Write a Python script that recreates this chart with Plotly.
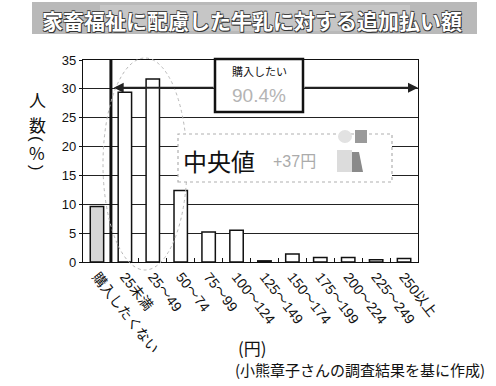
import plotly.graph_objects as go

# ---------------- data ----------------
categories = ["購入したくない", "25未満", "25～49", "50～74", "75～99", "100～124",
              "125～149", "150～174", "175～199", "200～224", "225～249", "250以上"]
percent = [9.6, 29.4, 31.7, 12.4, 5.2, 5.5, 0.2, 1.4, 0.8, 0.8, 0.4, 0.6]
bar_fill = ["#d6d6d6"] + ["#ffffff"] * 11
y_tick_vals = [0, 5, 10, 15, 20, 25, 30, 35]

title_text = "家畜福祉に配慮した牛乳に対する追加払い額"
buy_label = "購入したい"
buy_share = "90.4%"
buy_arrow_level = 30.2
median_label = "中央値"
median_value = "+37円"
x_unit = "(円)"
source_text = "(小熊章子さんの調査結果を基に作成)"
y_title_parts = [("人", 0), ("数", 0), ("(", 90), ("%", 0), (")", 90)]

# ---------------- geometry helpers ----------------
W, H = 496, 386
L, R, T, B = 83, 78, 60, 124
PW, PH = W - L - R, H - T - B
NCAT = len(categories)


def px(x):
    return (x - L) / PW


def py(y):
    return (H - B - y) / PH


def cx(x):
    # pixel -> category coordinate
    return (x - L) / (PW / NCAT) - 0.5


JP = "Noto Sans CJK JP"
LAT = "Liberation Sans, Arial, Noto Sans CJK JP"

fig = go.Figure()
fig.add_trace(go.Bar(
    x=categories, y=percent, width=0.48,
    marker=dict(color=bar_fill, line=dict(color="#111111", width=1.5)),
    showlegend=False, hoverinfo="skip",
))

shapes = []
annotations = []

# title banner
shapes.append(dict(type="rect", xref="paper", yref="paper",
                   x0=px(32), x1=px(477), y0=py(34), y1=py(2),
                   fillcolor="#b9b9b9", line=dict(width=0), layer="above"))
shapes.append(dict(type="rect", xref="paper", yref="paper",
                   x0=px(100), x1=px(410), y0=py(31), y1=py(5),
                   fillcolor="#c6c6c6", line=dict(width=0), layer="above"))
annotations.append(dict(
    text=title_text, xref="paper", yref="paper", x=px(252), y=py(20),
    showarrow=False, xanchor="center", yanchor="middle",
    font=dict(family=JP, size=21, color="#ffffff", weight="bold",
              shadow="1px 1px 0 #333, -0.6px -0.6px 0 #444, 0.6px -0.6px 0 #444, -0.6px 0.6px 0 #444"),
))

# separator between non-buyers and buyers
shapes.append(dict(type="line", xref="x", yref="y", x0=0.5, x1=0.5, y0=0, y1=35,
                   line=dict(color="#111111", width=3), layer="above"))

# dotted ellipse around the two tallest bars
shapes.append(dict(type="circle", xref="paper", yref="paper",
                   x0=px(103), x1=px(187), y0=py(270), y1=py(58),
                   line=dict(color="#b8b8b8", width=1, dash="dot"), layer="above"))

# buyers box (solid)
shapes.append(dict(type="rect", xref="paper", yref="paper",
                   x0=px(215), x1=px(303), y0=py(112), y1=py(59),
                   fillcolor="white", line=dict(color="#111111", width=2.5),
                   layer="above"))

# median box (dashed)
shapes.append(dict(type="rect", xref="paper", yref="paper",
                   x0=px(178), x1=px(392), y0=py(182), y1=py(134),
                   fillcolor="white", line=dict(color="#b0b0b0", width=1.2, dash="dot"),
                   layer="above"))
# small grey icon in median box
shapes.append(dict(type="circle", xref="paper", yref="paper",
                   x0=px(338), x1=px(352), y0=py(143), y1=py(130),
                   fillcolor="#e2e2e2", line=dict(width=0), layer="above"))
shapes.append(dict(type="rect", xref="paper", yref="paper",
                   x0=px(355), x1=px(367), y0=py(143), y1=py(130),
                   fillcolor="#9a9a9a", line=dict(width=0), layer="above"))
shapes.append(dict(type="rect", xref="paper", yref="paper",
                   x0=px(337), x1=px(352), y0=py(172), y1=py(150),
                   fillcolor="#dcdcdc", line=dict(width=0), layer="above"))
shapes.append(dict(type="path", xref="paper", yref="paper",
                   path=f"M {px(352)} {py(172)} L {px(363)} {py(172)} L {px(359)} {py(152)} L {px(352)} {py(152)} Z",
                   fillcolor="#8a8a8a", line=dict(width=0), layer="above"))

# arrow for "buyers" (two halves either side of the box)
annotations.append(dict(
    text="", x=0.6, y=buy_arrow_level, ax=cx(215), ay=buy_arrow_level,
    xref="x", yref="y", axref="x", ayref="y", showarrow=True,
    arrowhead=2, arrowsize=1, arrowwidth=2, arrowcolor="#222222", standoff=0,
))
annotations.append(dict(
    text="", x=11.5, y=buy_arrow_level, ax=cx(303), ay=buy_arrow_level,
    xref="x", yref="y", axref="x", ayref="y", showarrow=True,
    arrowhead=2, arrowsize=1, arrowwidth=2, arrowcolor="#222222", standoff=0,
))
annotations.append(dict(
    text=buy_label, xref="paper", yref="paper", x=px(259), y=py(71),
    showarrow=False, xanchor="center", yanchor="middle",
    font=dict(family=JP, size=11, color="#111"),
))
annotations.append(dict(
    text=buy_share, xref="paper", yref="paper", x=px(259), y=py(95),
    showarrow=False, xanchor="center", yanchor="middle",
    font=dict(family=LAT, size=19, color="#b4b4b4"),
))

# median text
annotations.append(dict(
    text=median_label, xref="paper", yref="paper", x=px(219), y=py(160),
    showarrow=False, xanchor="center", yanchor="middle",
    font=dict(family=JP, size=24, color="#111"),
))
annotations.append(dict(
    text=median_value, xref="paper", yref="paper", x=px(294), y=py(161),
    showarrow=False, xanchor="center", yanchor="middle",
    font=dict(family=LAT, size=16, color="#ababab"),
))

# y title (vertical)
y_title_pos = [99, 124, 139, 152, 168]
for (ch, ang), yp in zip(y_title_parts, y_title_pos):
    annotations.append(dict(
        text=ch, xref="paper", yref="paper", x=px(37), y=py(yp),
        showarrow=False, xanchor="center", yanchor="middle", textangle=ang,
        font=dict(family=JP if ang == 0 else LAT, size=17, color="#111"),
    ))

# unit & source
annotations.append(dict(
    text=x_unit, xref="paper", yref="paper", x=px(252), y=py(347),
    showarrow=False, xanchor="center", yanchor="middle",
    font=dict(family=JP, size=17, color="#111"),
))
annotations.append(dict(
    text=source_text, xref="paper", yref="paper", x=px(360), y=py(369),
    showarrow=False, xanchor="center", yanchor="middle",
    font=dict(family=JP, size=15, color="#111"),
))

fig.update_layout(
    width=W, height=H,
    margin=dict(l=L, r=R, t=T, b=B, pad=0),
    paper_bgcolor="white", plot_bgcolor="white",
    bargap=0.5,
    shapes=shapes, annotations=annotations,
    xaxis=dict(
        type="category", tickangle=52, tickfont=dict(family=LAT, size=14, color="#111"),
        showline=True, linecolor="#111", linewidth=1.2, mirror=True,
        ticks="inside", ticklen=4, tickcolor="#111", tickson="boundaries",
        showgrid=False, range=[-0.5, 11.5], fixedrange=True,
    ),
    yaxis=dict(
        range=[0, 35], tickvals=y_tick_vals, tickfont=dict(family=LAT, size=13, color="#111"),
        showline=True, linecolor="#111", linewidth=1.2, mirror=True,
        showgrid=True, gridcolor="#222", gridwidth=1,
        ticks="outside", ticklen=3, tickcolor="#111", zeroline=False,
    ),
)

fig.write_html("out.html")
